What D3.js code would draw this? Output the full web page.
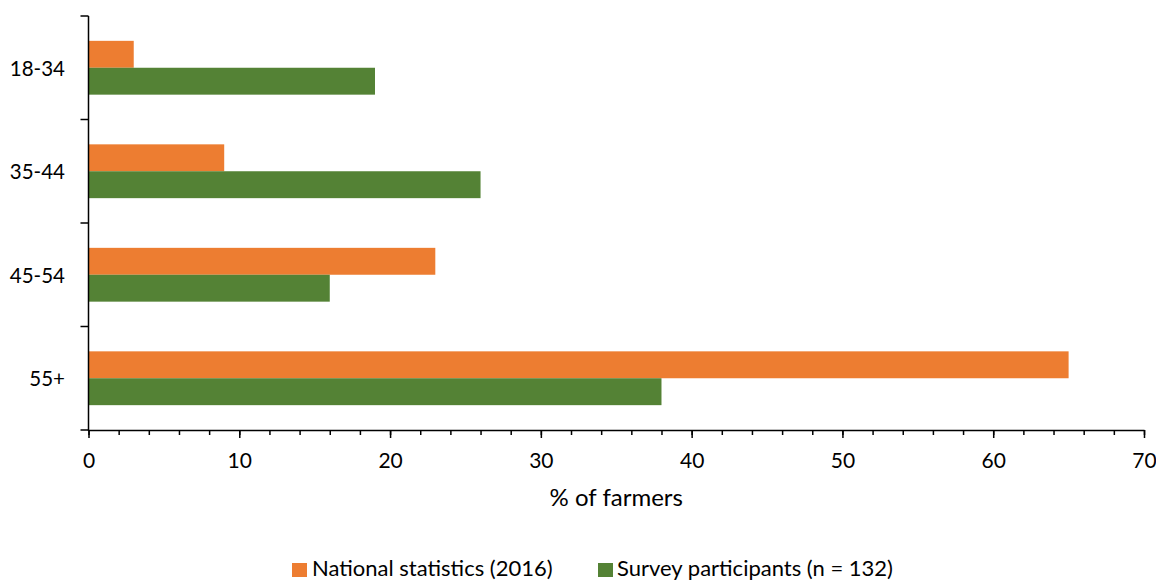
<!DOCTYPE html>
<html>
<head>
<meta charset="utf-8">
<script src="https://cdn.jsdelivr.net/npm/d3@7"></script>
<style>
  body { margin: 0; background: #fff; }
  svg text { font-family: Lato, "Open Sans", sans-serif; fill: #000; }
</style>
</head>
<body>
<svg id="chart" width="1156" height="580"></svg>
<script>
// Age groups and share of farmers (%) in each
const ageGroups = ["18-34", "35-44", "45-54", "55+"];
const nationalStats = [3, 9, 23, 65];
const surveyParticipants = [19, 26, 16, 38];
const seriesNames = ["National statistics (2016)", "Survey participants (n = 132)"];
const seriesColors = ["#ED7D31", "#548235"];
const xTicks = [0, 10, 20, 30, 40, 50, 60, 70];
const xMinorTicks = d3.range(0, 71, 2);

const svg = d3.select("#chart");
const plotLeft = 88.5, plotRight = 1144, plotTop = 16, plotBottom = 430;

const x = d3.scaleLinear().domain([0, 70]).range([plotLeft, plotRight]);
const y = d3.scaleBand().domain(ageGroups).range([plotTop, plotBottom])
  .paddingInner(0.48).paddingOuter(0.24);
const ySeries = d3.scaleBand().domain([0, 1]).range([0, y.bandwidth()]);

const rows = ageGroups.map((g, i) => ({ group: g, values: [nationalStats[i], surveyParticipants[i]] }));

// Bars
const groups = svg.append("g").selectAll("g").data(rows).join("g")
  .attr("transform", d => `translate(0,${y(d.group)})`);
groups.selectAll("rect").data(d => d.values.map((v, s) => ({ v, s }))).join("rect")
  .attr("x", x(0))
  .attr("y", d => ySeries(d.s))
  .attr("width", d => x(d.v) - x(0))
  .attr("height", ySeries.bandwidth())
  .attr("fill", d => seriesColors[d.s]);

// Y axis: category boundary ticks pointing left
const yAxis = svg.append("g");
yAxis.append("line").attr("x1", plotLeft).attr("x2", plotLeft).attr("y1", plotTop).attr("y2", plotBottom + 1)
  .attr("stroke", "#000").attr("stroke-width", 1.5);
const boundaries = [plotTop].concat(ageGroups.slice(1).map(g => y(g) - y.step() * y.paddingInner() / 2)).concat([plotBottom]);
yAxis.selectAll("line.tick").data(boundaries).join("line").attr("class", "tick")
  .attr("x1", plotLeft - 8).attr("x2", plotLeft).attr("y1", d => d).attr("y2", d => d)
  .attr("stroke", "#000").attr("stroke-width", 1.5);
yAxis.selectAll("text").data(ageGroups).join("text")
  .attr("x", 65).attr("y", d => y(d) + y.bandwidth() / 2)
  .attr("text-anchor", "end").attr("dominant-baseline", "central")
  .attr("font-size", 20.5).text(d => d);

// X axis with major and minor ticks
const xAxisG = svg.append("g").attr("transform", `translate(0,${plotBottom})`);
xAxisG.append("g").call(d3.axisBottom(x).tickValues(xMinorTicks).tickSize(5).tickFormat(""))
  .call(g => g.select(".domain").remove())
  .call(g => g.selectAll("line").attr("stroke-width", 1.5));
xAxisG.append("g").call(d3.axisBottom(x).tickValues(xTicks).tickSize(8).tickSizeOuter(0))
  .call(g => g.select(".domain").attr("stroke-width", 1.5))
  .call(g => g.selectAll("line").attr("stroke-width", 1.5))
  .call(g => g.selectAll("text").attr("y", 38).attr("dy", null)
    .attr("font-size", 21).attr("font-family", "Lato, 'Open Sans', sans-serif").attr("fill", "#000"));

svg.append("text").attr("x", (plotLeft + plotRight) / 2).attr("y", 506)
  .attr("text-anchor", "middle").attr("font-size", 24).text("% of farmers");

// Legend
const legendItems = [{ x: 292, tx: 312 }, { x: 598, tx: 617 }];
const legend = svg.append("g");
legend.selectAll("rect").data(seriesNames).join("rect")
  .attr("x", (d, i) => legendItems[i].x).attr("y", 563).attr("width", 15).attr("height", 14)
  .attr("fill", (d, i) => seriesColors[i]);
legend.selectAll("text").data(seriesNames).join("text")
  .attr("x", (d, i) => legendItems[i].tx).attr("y", 576)
  .attr("font-size", 22).text(d => d);
</script>
</body>
</html>
